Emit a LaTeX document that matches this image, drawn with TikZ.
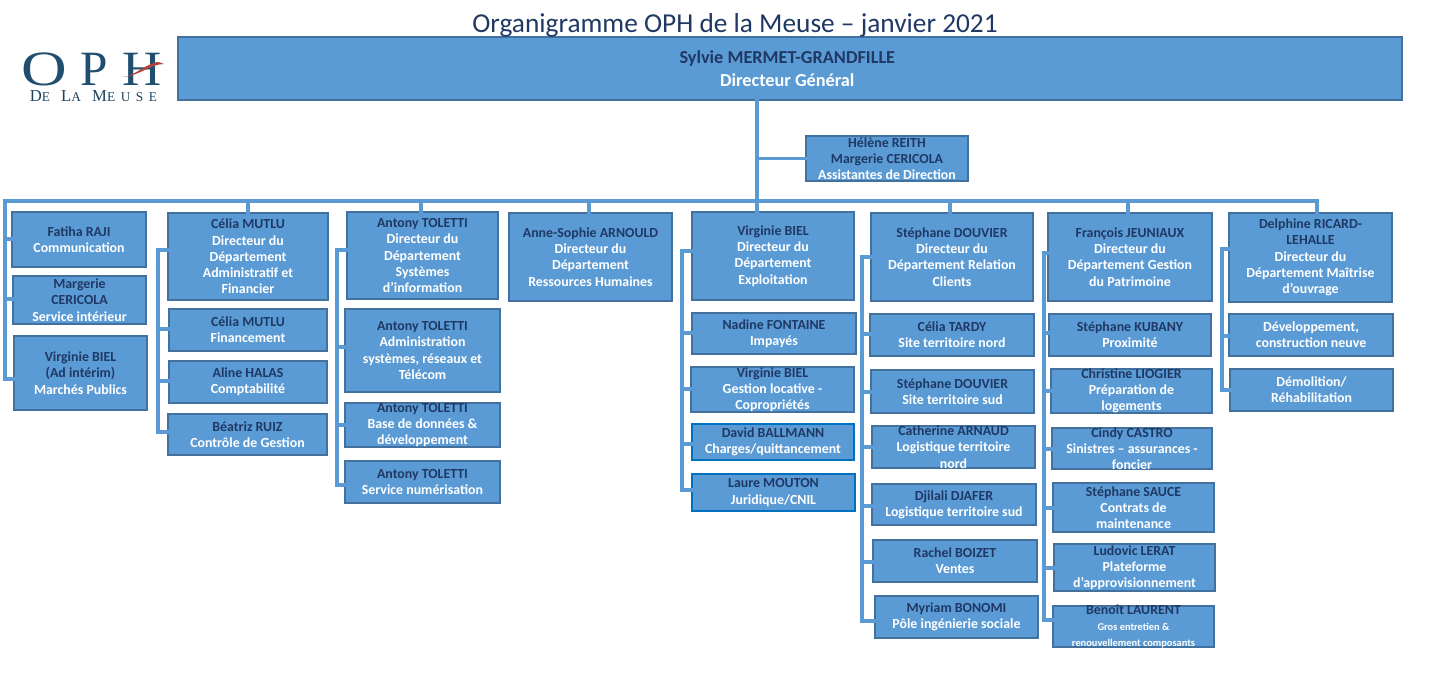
\documentclass[tikz,border=0pt]{standalone}
\usepackage{fontspec}
\setmainfont{Carlito}
\newfontfamily\logofont{Liberation Serif}
\definecolor{boxfill}{HTML}{5B9BD5}
\definecolor{boxline}{HTML}{41719C}
\definecolor{bluline}{HTML}{0070C0}
\definecolor{navy}{HTML}{1F3864}
\definecolor{logoblue}{HTML}{1F4E6F}
\definecolor{logored}{HTML}{B5403C}
\tikzset{
  orgbox/.style={draw=boxline,fill=boxfill,line width=1.6pt,inner sep=0pt,outer sep=0pt,text=white,font=\bfseries},
  bluebox/.style={orgbox,draw=bluline},
  conn/.style={draw=boxfill,line width=2.5pt,line cap=rect},
}
\newcommand{\nm}[1]{{\color{navy}#1}}
\newcommand{\bx}[7][orgbox]{%
  \pgfmathsetmacro{\mycx}{(#3+#5)/2}\pgfmathsetmacro{\mycy}{(#4+#6)/2}%
  \pgfmathsetmacro{\mywd}{(#5-#3)*0.75}\pgfmathsetmacro{\myht}{(#6-#4)*0.75}%
  \node[#1,minimum width=\mywd pt,minimum height=\myht pt] (#2) at (\mycx,\mycy)
    {\makebox[0pt][c]{\raisebox{-0.25em}[0pt][0pt]{\parbox{300pt}{\centering\fontsize{10.4}{12.2}\selectfont #7\par}}}};}
\newcommand{\brn}[3]{\draw[conn] (#1 |- 0,#3) -- (#2.west |- 0,#3);}
\begin{document}
\begin{tikzpicture}[x=0.75pt,y=-0.75pt]
\useasboundingbox (0,0) rectangle (1446,675);
% connectors
\coordinate (tr) at (757,201);
\coordinate (sa) at (5,201);
\coordinate (sb) at (158,0);
\coordinate (sc) at (337,0);
\coordinate (sd) at (682,0);
\coordinate (se) at (862,0);
\coordinate (sf) at (1044,0);
\coordinate (sg) at (1222,0);
\coordinate (d2) at (248,0);
\coordinate (d3) at (421,0);
\coordinate (d4) at (589,0);
\coordinate (d6) at (950,0);
\coordinate (d7) at (1128,0);
\coordinate (d8) at (1317,0);
% boxes
\bx{dg}{178}{37}{1402}{100}{\fontsize{13.7}{16.5}\selectfont\hspace*{-4pt}\nm{Sylvie MERMET-GRANDFILLE}\\[1pt]\hspace*{-4pt}Directeur Général}
\bx{as}{806}{136}{968}{181}{\nm{Hélène REITH}\\\nm{Margerie CERICOLA}\\Assistantes de Direction}
\bx{a1}{12}{212}{146}{267}{\nm{Fatiha RAJI}\\Communication}
\bx{a2}{13}{276}{146}{324}{\nm{Margerie}\\\nm{CERICOLA}\\Service intérieur}
\bx{a3}{14}{336}{147}{410}{\nm{Virginie BIEL}\\\nm{(Ad intérim)}\\Marchés Publics}
\bx{b0}{168}{213}{328}{300}{\nm{Célia MUTLU}\\Directeur du\\Département\\Administratif et\\Financier}
\bx{b1}{169}{309}{327}{351}{\nm{Célia MUTLU}\\Financement}
\bx{b2}{169}{361}{327}{403}{\nm{Aline HALAS}\\Comptabilité}
\bx{b3}{168}{414}{327}{455}{\nm{Béatriz RUIZ}\\Contrôle de Gestion}
\bx{c0}{347}{212}{498}{299}{\nm{Antony TOLETTI}\\Directeur du\\Département\\Systèmes\\d’information}
\bx{c1}{345}{309}{500}{392}{\nm{Antony TOLETTI}\\Administration\\systèmes, réseaux et\\Télécom}
\bx{c2}{345}{403}{500}{447}{\nm{Antony TOLETTI}\\Base de données \&\\développement}
\bx{c3}{345}{461}{500}{503}{\nm{Antony TOLETTI}\\Service numérisation}
\bx{h0}{509}{213}{672}{301}{\nm{Anne-Sophie ARNOULD}\\Directeur du\\Département\\Ressources Humaines}
\bx{v0}{692}{212}{854}{300}{\nm{Virginie BIEL}\\Directeur du\\Département\\Exploitation}
\bx{v1}{692}{313}{856}{354}{\nm{Nadine FONTAINE}\\Impayés}
\bx{v2}{691}{367}{854}{412}{\nm{Virginie BIEL}\\Gestion locative -\\Copropriétés}
\bx[bluebox]{v3}{692}{424}{854}{460}{\nm{David BALLMANN}\\Charges/quittancement}
\bx[bluebox]{v4}{692}{474}{855}{511}{\nm{Laure MOUTON}\\Juridique/CNIL}
\bx{e0}{871}{213}{1033}{301}{\nm{Stéphane DOUVIER}\\Directeur du\\Département Relation\\Clients}
\bx{e1}{870}{314}{1034}{356}{\nm{Célia TARDY}\\Site territoire nord}
\bx{e2}{871}{370}{1034}{413}{\nm{Stéphane DOUVIER}\\Site territoire sud}
\bx{e3}{872}{426}{1035}{468}{\nm{Catherine ARNAUD}\\Logistique territoire\\nord}
\bx{e4}{872}{484}{1036}{525}{\nm{Djilali DJAFER}\\Logistique territoire sud}
\bx{e5}{873}{540}{1037}{582}{\nm{Rachel BOIZET}\\Ventes}
\bx{e6}{875}{596}{1038}{638}{\nm{Myriam BONOMI}\\Pôle ingénierie sociale}
\bx{f0}{1048}{213}{1212}{301}{\nm{François JEUNIAUX}\\Directeur du\\Département Gestion\\du Patrimoine}
\bx{f1}{1049}{314}{1211}{356}{\nm{Stéphane KUBANY}\\Proximité}
\bx{f2}{1051}{369}{1212}{413}{\nm{Christine LIOGIER}\\Préparation de\\logements}
\bx{f3}{1052}{428}{1212}{469}{\nm{Cindy CASTRO}\\Sinistres – assurances -\\foncier}
\bx{f4}{1053}{483}{1214}{532}{\nm{Stéphane SAUCE}\\Contrats de\\maintenance}
\bx{f5}{1054}{544}{1215}{591}{\nm{Ludovic LERAT}\\Plateforme\\d’approvisionnement}
\bx{f6}{1053}{606}{1214}{647}{\nm{Benoît LAURENT}\\{\fontsize{7.8}{12.2}\selectfont Gros entretien \&}\\{\fontsize{7.8}{10}\selectfont renouvellement composants}}
\bx{g0}{1229}{213}{1392}{302}{\nm{Delphine RICARD-}\\\nm{LEHALLE}\\Directeur du\\Département Maîtrise\\d’ouvrage}
\bx{g1}{1229}{314}{1393}{356}{Développement,\\construction neuve}
\bx{g2}{1230}{369}{1393}{411}{Démolition/\\Réhabilitation}
% trunk and bus
\draw[conn] (tr |- dg.south) -- (tr);
\draw[conn] (tr |- as.west) -- (as.west);
\draw[conn] (a3.west |- 0,379) -- (sa |- 0,379) -- (sa) -- (d8 |- sa) -- (d8 |- g0.north);
\draw[conn] (d2 |- sa) -- (d2 |- b0.north);
\draw[conn] (d3 |- sa) -- (d3 |- c0.north);
\draw[conn] (d4 |- sa) -- (d4 |- h0.north);
\draw[conn] (tr) -- (tr |- v0.north);
\draw[conn] (d6 |- sa) -- (d6 |- e0.north);
\draw[conn] (d7 |- sa) -- (d7 |- f0.north);
\brn{sa}{a1}{239} \brn{sa}{a2}{299}
% group spines
\draw[conn] (sb |- 0,250) -- (sb |- 0,432);
\brn{sb}{b0}{250} \brn{sb}{b1}{329} \brn{sb}{b2}{381} \brn{sb}{b3}{432}
\draw[conn] (sc |- 0,250) -- (sc |- 0,485);
\brn{sc}{c0}{250} \brn{sc}{c1}{347} \brn{sc}{c2}{425} \brn{sc}{c3}{485}
\draw[conn] (sd |- 0,251) -- (sd |- 0,490);
\brn{sd}{v0}{251} \brn{sd}{v1}{333} \brn{sd}{v2}{389} \brn{sd}{v3}{444} \brn{sd}{v4}{490}
\draw[conn] (se |- 0,257) -- (se |- 0,621);
\brn{se}{e0}{257} \brn{se}{e1}{334} \brn{se}{e2}{392} \brn{se}{e3}{447} \brn{se}{e4}{506} \brn{se}{e5}{562} \brn{se}{e6}{621}
\draw[conn] (sf |- 0,253) -- (sf |- 0,620);
\brn{sf}{f0}{253} \brn{sf}{f1}{333} \brn{sf}{f2}{391} \brn{sf}{f3}{449} \brn{sf}{f4}{508} \brn{sf}{f5}{568} \brn{sf}{f6}{620}
\draw[conn] (sg |- 0,249) -- (sg |- 0,390);
\brn{sg}{g0}{249} \brn{sg}{g1}{336} \brn{sg}{g2}{390}
% title
\node[text=navy,font=\fontsize{20.5}{24}\selectfont,inner sep=0pt] (title) at (735,25.5) {Organigramme OPH de la Meuse – janvier 2021};
% logo
\node[text=logoblue,font=\logofont\fontsize{37}{37}\selectfont,inner sep=0pt,xscale=1.28] (lo) at (44.5,69) {O};
\node[text=logoblue,font=\logofont\fontsize{37}{37}\selectfont,inner sep=0pt] (lp) at (94,69) {P};
\node[text=logoblue,font=\logofont\fontsize{37}{37}\selectfont,inner sep=0pt,xscale=1.1] (lh) at (142.5,69) {H};
\fill[logored] (122,77) .. controls (135,76) and (142,66) .. (157,62) .. controls (159,62) and (162,63) .. (164,64) .. controls (150,64) and (140,76) .. (122,77) -- cycle;
\node[text=logoblue!85!black,font=\logofont,inner sep=0pt] (lm) at (93.5,96.5) {\addfontfeature{LetterSpace=42}\fontsize{12.5}{13}\selectfont D{\fontsize{10}{13}\selectfont E} L{\fontsize{10}{13}\selectfont A} M{\fontsize{10}{13}\selectfont EUSE}};
\end{tikzpicture}
\end{document}
